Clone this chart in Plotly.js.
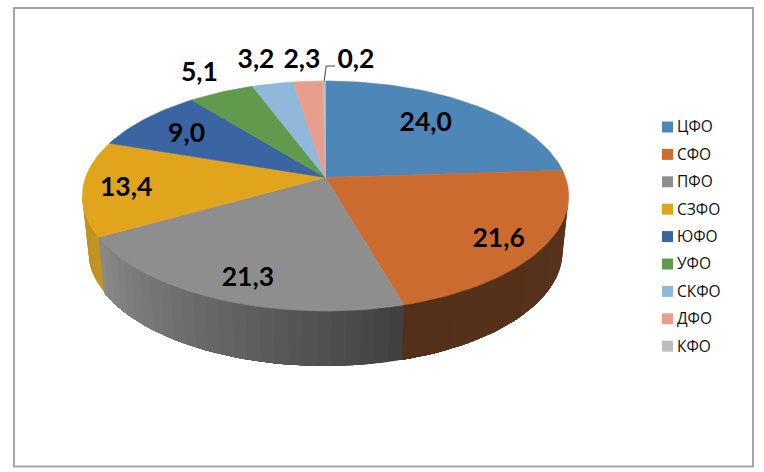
<!DOCTYPE html>
<html>
<head>
<meta charset="utf-8">
<script src="https://cdn.plot.ly/plotly-3.0.1.min.js"></script>
<style>html,body{margin:0;padding:0;background:#fff}#chart{width:764px;height:472px}</style>
</head>
<body>
<div id="chart"></div>
<script>
// Data
const categories = ['ЦФО','СФО','ПФО','СЗФО','ЮФО','УФО','СКФО','ДФО','КФО'];
const values = [24.0,21.6,21.3,13.4,9.0,5.1,3.2,2.3,0.2];
// Styles
const topColors = ['#4f86b8','#cb6b30','#8e8e8e','#e0a51c','#3b64a3','#5f9a4d','#8fb8da','#e89e8c','#bdbdbd'];
const wallNear = ['#3a5f85','#5a331b','#8a8a8a','#c2951f','#2b4a78','#466f39','#6a88a1','#ab7568','#8a8a8a'];
const wallFar  = ['#3a5f85','#52301a','#404040','#bb8f1c','#2b4a78','#466f39','#6a88a1','#ab7568','#8a8a8a'];
// Label placement: radial fraction of the slice mid-angle and a small pixel nudge
const labelRadius = [0.70,0.82,0.83,0.82,0.75,1.27,1.32,1.28,1.28];
const labelNudgeX = [-6,-1,8.6,-1,-1,2,-2.6,-2,32];
const labelNudgeY = [0,6,3.5,3.5,3,2,2.5,2.5,2.5];

// Pie projection (perspective tilt of a circle)
const CX=325.5, CY=177.5, A=240, B=112, K=0.161;
const DEPTH=55, BOTTOM_SCALE=0.975;
const total = values.reduce((s,v)=>s+v,0);
const rad = d=>d*Math.PI/180;
function proj(deg,r){
  const X=r*Math.sin(rad(deg)), Y=r*Math.cos(rad(deg)), w=1+K*Y;
  return [CX+A*X/w, CY-B*Y/w];
}
function low(p){ return [CX+BOTTOM_SCALE*(p[0]-CX), p[1]+DEPTH]; }
function hex(h){ return [1,3,5].map(i=>parseInt(h.substr(i,2),16)); }
function mix(a,b,t){ const x=hex(a),y=hex(b); return 'rgb('+x.map((v,i)=>Math.round(v+(y[i]-v)*t)).join(',')+')'; }

const starts=[]; let cum=0;
values.forEach(v=>{ starts.push(cum/total*360); cum+=v; });
const ends = values.map((v,i)=>starts[i]+v/total*360);

const traces=[];
function poly(pts,color,w){
  traces.push({type:'scatter',mode:'lines',x:pts.map(p=>p[0]),y:pts.map(p=>p[1]),fill:'toself',fillcolor:color,
    line:{color:color,width:w},hoverinfo:'skip',showlegend:false});
}
// Side wall, visible between the two silhouette tangents; each strip runs
// to the slice's far end and the next one paints over it, so no seams show.
const VIS_A=99.3, VIS_B=260.7;
values.forEach((v,i)=>{
  const a=Math.max(starts[i],VIS_A), b=Math.min(ends[i],VIS_B);
  if(b<=a) return;
  const n=Math.max(1,Math.round((b-a)/3));
  for(let j=0;j<n;j++){
    const a0=a+(b-a)*j/n;
    const t=1-((j+0.5)/n);
    const steps=Math.max(1,Math.ceil((b-a0)/2));
    const upper=[],lower=[];
    for(let m=0;m<=steps;m++){
      const p=proj(a0+(b-a0)*m/steps,1);
      upper.push(p); lower.unshift(low(p));
    }
    const col = mix(wallNear[i],wallFar[i], (i===2? t : 1-t));
    poly(upper.concat(lower).concat([upper[0]]),col,0);
  }
});
// Top faces
values.forEach((v,i)=>{
  const pts=[[CX,CY]];
  const n=Math.max(2,Math.ceil((ends[i]-starts[i])/1.5));
  for(let j=0;j<=n;j++) pts.push(proj(starts[i]+(ends[i]-starts[i])*j/n,1));
  pts.push([CX,CY]);
  poly(pts,topColors[i],0.6);
});
// Leader line for the thin last slice
const lastEdge=proj((starts[8]+ends[8])/2,1);
traces.push({type:'scatter',mode:'lines',x:[lastEdge[0],lastEdge[0]+2,lastEdge[0]+11],y:[lastEdge[1],lastEdge[1]-15,lastEdge[1]-15],
  line:{color:'#444',width:1},hoverinfo:'skip',showlegend:false});
// Value labels
const lx=[],ly=[];
values.forEach((v,i)=>{
  const p=proj((starts[i]+ends[i])/2,labelRadius[i]);
  lx.push(p[0]+labelNudgeX[i]); ly.push(p[1]+labelNudgeY[i]);
});
traces.push({type:'scatter',mode:'text',x:lx,y:ly,text:values.map(v=>v.toFixed(1).replace('.',',')),
  textposition:'middle center',textfont:{family:'Lato, "Open Sans", sans-serif',size:26.5,color:'#000',weight:700},
  hoverinfo:'skip',showlegend:false});
// Key
const keyY=categories.map((c,i)=>127+27.4*i);
traces.push({type:'scatter',mode:'markers',x:categories.map(()=>667.5),y:keyY,
  marker:{symbol:'square',size:11,color:topColors,line:{width:0}},hoverinfo:'skip',showlegend:false});
traces.push({type:'scatter',mode:'text',x:categories.map(()=>677),y:keyY.map(y=>y+1.5),text:categories,textposition:'middle right',
  textfont:{family:'"Open Sans", sans-serif',size:15.5,color:'#111'},hoverinfo:'skip',showlegend:false});

const layout={
  width:764,height:472,margin:{l:0,r:0,t:0,b:0},
  paper_bgcolor:'#fff',plot_bgcolor:'#fff',showlegend:false,
  xaxis:{range:[0,764],visible:false,fixedrange:true},
  yaxis:{range:[472,0],visible:false,fixedrange:true},
  shapes:[{type:'rect',xref:'x',yref:'y',x0:14,y0:8,x1:753,y1:466.5,line:{color:'#a6a6a6',width:2},layer:'below'}]
};
Plotly.newPlot('chart',traces,layout,{displayModeBar:false,staticPlot:true});
</script>
</body>
</html>
